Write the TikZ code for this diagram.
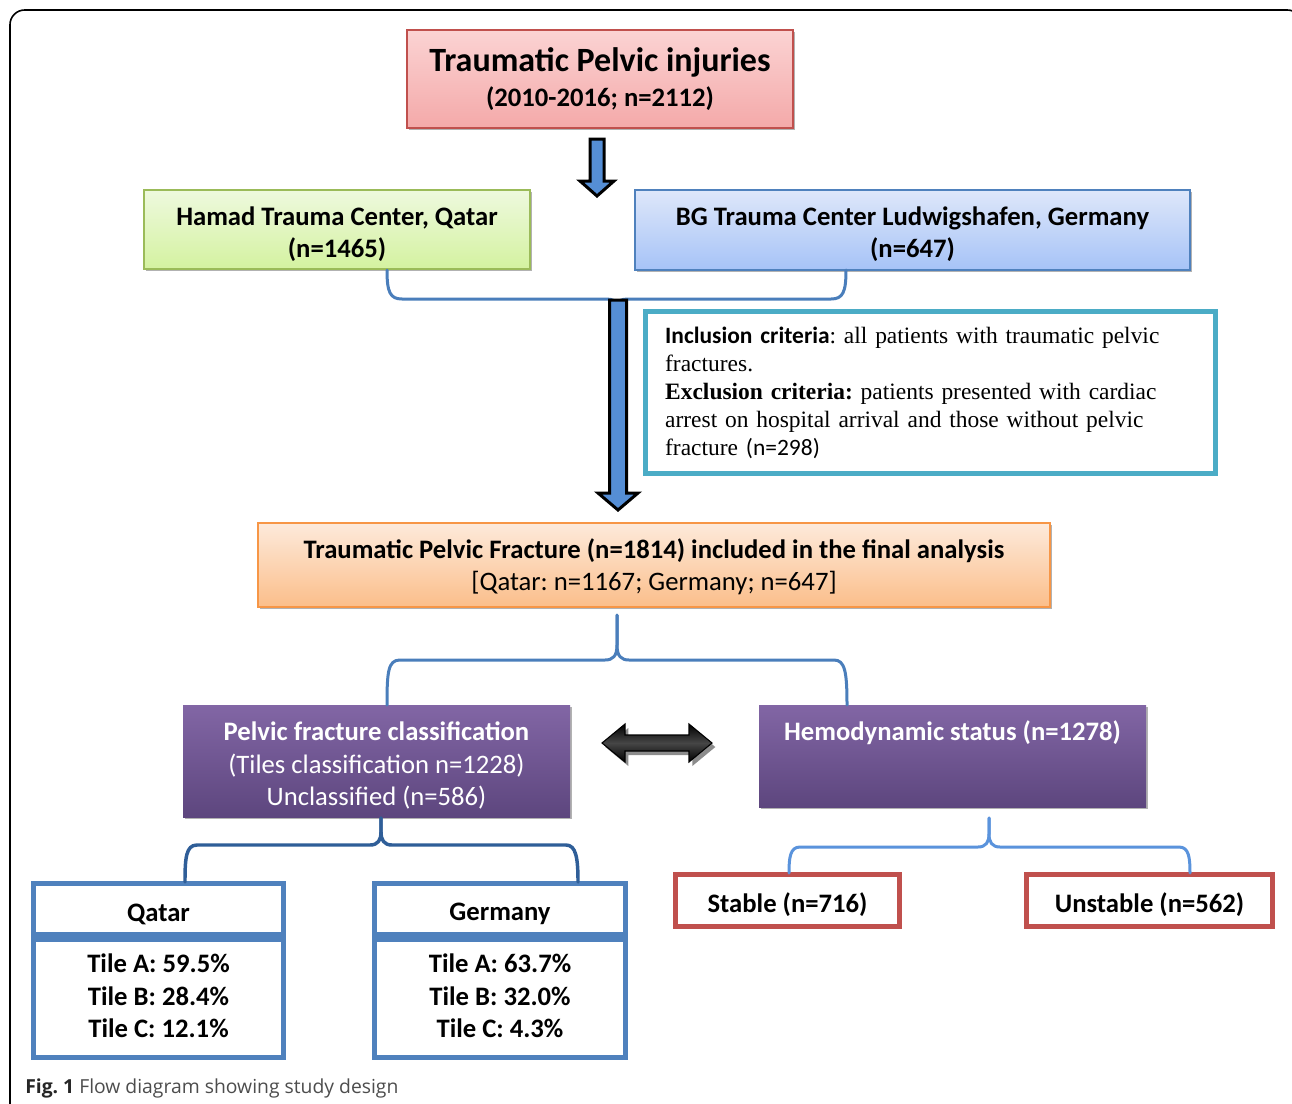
\documentclass[tikz,border=0pt]{standalone}
\usepackage{fontspec}
\setmainfont{Carlito}
\newfontfamily\tnr{Liberation Serif}
\newfontfamily\carlito{Carlito}
\newfontfamily\capfont{Open Sans}
\usetikzlibrary{shadows,calc}

\newcommand\boxtext[2]{\raisebox{#1}[\height][\depth]{\begin{tabular}{@{}c@{}}#2\end{tabular}}}
\newcommand\linetext[2]{\raisebox{#1}[\height][\depth]{#2}}

\definecolor{titleT}{HTML}{FBD3D3}
\definecolor{titleB}{HTML}{F4A9A9}
\definecolor{titleline}{HTML}{C0504D}
\definecolor{greenT}{HTML}{EEF9DE}
\definecolor{greenB}{HTML}{D4F2A0}
\definecolor{greenline}{HTML}{9BBB59}
\definecolor{blueT}{HTML}{DEE7FA}
\definecolor{blueB}{HTML}{A6C3F7}
\definecolor{blueline}{HTML}{4F81BD}
\definecolor{orangeT}{HTML}{FDEADB}
\definecolor{orangeB}{HTML}{FBBE8A}
\definecolor{orangeline}{HTML}{F79646}
\definecolor{purpleT}{HTML}{8266A5}
\definecolor{purpleB}{HTML}{5D467E}
\definecolor{tealline}{HTML}{4BACC6}
\definecolor{tileline}{HTML}{4F81BD}
\definecolor{redline}{HTML}{C0504D}
\definecolor{arrowblue}{HTML}{558ED5}
\definecolor{braceA}{HTML}{4A7EBB}
\definecolor{braceC}{HTML}{2F5E98}
\definecolor{braceD}{HTML}{5A93DC}
\definecolor{capgray}{HTML}{4D4D4D}

\tikzset{
  myshadow/.style={drop shadow={shadow xshift=1.6pt, shadow yshift=-1.6pt, opacity=0.3, fill=black}},
  fillbox/.style={rectangle, line width=1.1pt, align=center, inner sep=0pt, myshadow},
  purplebox/.style={fillbox, draw=none, top color=purpleT, bottom color=purpleB, text=white,
     minimum width=290.25pt, font=\fontsize{20}{24.4}\selectfont},
  tilehead/.style={rectangle, draw=tileline, line width=3.75pt, minimum width=188pt,
     minimum height=38.25pt, inner sep=0pt, font=\fontsize{20}{24}\selectfont\bfseries},
  tilebody/.style={rectangle, draw=tileline, line width=3.75pt, minimum width=188pt,
     minimum height=88.5pt, inner sep=0pt, align=center, font=\fontsize{20}{24.4}\selectfont\bfseries},
  redbox/.style={rectangle, draw=redline, line width=3.75pt, minimum height=39pt, inner sep=0pt,
     font=\fontsize{20}{24}\selectfont\bfseries},
  bracestyle/.style={line width=2.25pt, line cap=round, line join=round},
  blockarrow/.style={fill=arrowblue, draw=black, line width=2.25pt, line join=miter},
  dblarrow/.style={draw=black, line width=0.8pt, top color=black, bottom color=black,
     middle color=gray!55!black, drop shadow={shadow xshift=2.5pt, shadow yshift=-3pt, opacity=0.45, fill=black}}
}

\begin{document}
\frenchspacing
\begin{tikzpicture}[x=0.75pt,y=-0.75pt]
\useasboundingbox (0,0) rectangle (1292,1103);
\fill[white] (0,0) rectangle (1292,1103);

% outer frame
\begin{scope}
\clip (0,0) rectangle (1292,1103);
\draw[line width=1.2pt, rounded corners=11pt] (10,1130) -- (10,10) -- (1302,10) -- (1302,1130);
\end{scope}

% boxes
\node[fillbox, draw=titleline, top color=titleT, bottom color=titleB,
      minimum width=289.5pt, minimum height=73.5pt, font=\bfseries\fontsize{20}{26}\selectfont]
  (title) at (600,79) {{\fontsize{25.5}{26}\selectfont Traumatic Pelvic injuries}\\(2010-2016; n=2112)};

\node[fillbox, draw=greenline, top color=greenT, bottom color=greenB,
      minimum width=289.5pt, minimum height=59.25pt, font=\bfseries\fontsize{20}{24}\selectfont]
  (hamad) at (337,229.5) {\boxtext{-4.3pt}{Hamad Trauma Center, Qatar\\(n=1465)}};

\node[fillbox, draw=blueline, top color=blueT, bottom color=blueB,
      minimum width=416.25pt, minimum height=60pt, font=\bfseries\fontsize{20}{24}\selectfont]
  (bg) at (912.5,230) {\boxtext{-3.9pt}{BG Trauma Center Ludwigshafen, Germany\\(n=647)}};

\node[rectangle, draw=tealline, line width=3.75pt, minimum height=121.5pt,
      text width=398pt, inner xsep=14.7pt, inner ysep=0pt, align=left,
      font=\tnr\fontsize{17.6}{21}\selectfont\frenchspacing]
  (incl) at (930.5,392.5) {{\carlito\bfseries Inclusion criteria}: all patients with traumatic pelvic\\
  fractures.\\
  \textbf{Exclusion criteria:} patients presented with cardiac\\
  arrest on hospital arrival and those without pelvic\\
  fracture {\carlito(n=298)}};

\node[fillbox, draw=orangeline, top color=orangeT, bottom color=orangeB,
      minimum width=594pt, minimum height=63pt, font=\fontsize{20}{24}\selectfont]
  (frac) at (654,565) {\boxtext{-2.4pt}{\textbf{Traumatic Pelvic Fracture (n=1814) included in the final analysis}\\
  {[}Qatar: n=1167; Germany; n=647{]}}};

\node[purplebox, minimum height=84pt]
  (pclass) at (376.5,761) {\boxtext{-4.2pt}{\textbf{Pelvic fracture classification}\\(Tiles classification n=1228)\\Unclassified (n=586)}};

\node[purplebox, minimum height=76.5pt, text height=14pt, text depth=38pt]
  (hemo) at (952.5,756) {\textbf{Hemodynamic status (n=1278)}};

\node[tilehead] (qh) at (158.5,909) {\linetext{-3.75pt}{Qatar}};
\node[tilebody] (qb) at (158.5,998.5) {\boxtext{0pt}{Tile A: 59.5\%\\Tile B: 28.4\%\\Tile C: 12.1\%}};
\node[tilehead] (gh) at (500,909) {\linetext{-3.75pt}{Germany}};
\node[tilebody] (gb) at (500,998.5) {\boxtext{0pt}{Tile A: 63.7\%\\Tile B: 32.0\%\\Tile C: 4.3\%}};

\node[redbox, minimum width=168pt] (stable) at (787.5,900.5) {\linetext{-3pt}{Stable (n=716)}};
\node[redbox, minimum width=184.5pt] (unstable) at (1149.5,900.5) {\linetext{-3pt}{Unstable (n=562)}};

% block arrow 1 (title -> centres)
\coordinate (a1s) at (597,139);
\coordinate (a1e) at (597,196);
\draw[blockarrow] ($(a1s)+(-7,0)$) -- ($(a1s)+(7,0)$) -- ($(a1e)+(7,-15)$) -- ($(a1e)+(17,-15)$)
   -- (a1e) -- ($(a1e)+(-17,-15)$) -- ($(a1e)+(-7,-15)$) -- cycle;

% brace 1 (centres -> arrow 2)
\coordinate (b1l) at (387,270);
\coordinate (b1r) at (846,270);
\coordinate (b1m) at (617,306);
\draw[bracestyle, draw=braceA] (b1l) .. controls (387,292) and (390,299) .. (402,299) -- (606,299)
   .. controls (613,299) and (617,301) .. (b1m) .. controls (617,301) and (621,299) .. (628,299)
   -- (831,299) .. controls (843,299) and (846,292) .. (b1r);

% block arrow 2 (-> fracture box)
\coordinate (a2s) at (618,300);
\coordinate (a2e) at (618,510);
\draw[blockarrow] ($(a2s)+(-8.5,0)$) -- ($(a2s)+(8.5,0)$) -- ($(a2e)+(8.5,-17)$) -- ($(a2e)+(20,-17)$)
   -- (a2e) -- ($(a2e)+(-20,-17)$) -- ($(a2e)+(-8.5,-17)$) -- cycle;

% brace 2 (fracture -> purple boxes)
\coordinate (b2m) at (617,615);
\coordinate (b2l) at (387,705);
\coordinate (b2r) at (847,705);
\draw[bracestyle, draw=braceA] (b2l) .. controls (387,672) and (388,660) .. (400,660) -- (605,660)
   .. controls (613,660) and (617,656) .. (617,645) -- (b2m);
\draw[bracestyle, draw=braceA] (b2m) -- (617,645) .. controls (617,656) and (621,660) .. (629,660)
   -- (834,660) .. controls (845,660) and (847,672) .. (b2r);

% double arrow between purple boxes
\coordinate (dal) at (602,743);
\coordinate (dar) at (712,743);
\path[dblarrow] (dal) -- ($(dal)+(23,-19)$) -- ($(dal)+(23,-8)$) -- ($(dar)+(-23,-8)$) -- ($(dar)+(-23,-19)$)
   -- (dar) -- ($(dar)+(-23,19)$) -- ($(dar)+(-23,8)$) -- ($(dal)+(23,8)$) -- ($(dal)+(23,19)$) -- cycle;

% brace 3 (classification -> Qatar / Germany)
\coordinate (b3m) at (381,818);
\coordinate (b3l) at (185,882);
\coordinate (b3r) at (578,882);
\draw[bracestyle, line width=2.6pt, draw=braceC] (b3l) .. controls (185,858) and (186,845) .. (197,845) -- (370,845)
   .. controls (378,845) and (381,840) .. (381,832) -- (b3m);
\draw[bracestyle, line width=2.6pt, draw=braceC] (b3m) -- (381,832) .. controls (381,840) and (384,845) .. (392,845)
   -- (566,845) .. controls (576,845) and (578,858) .. (b3r);

% brace 4 (hemodynamic -> stable / unstable)
\coordinate (b4m) at (989,818);
\coordinate (b4l) at (789,873);
\coordinate (b4r) at (1190,873);
\draw[bracestyle, draw=braceD] (b4l) .. controls (789,858) and (790,847) .. (800,847) -- (978,847)
   .. controls (986,847) and (989,842) .. (989,834) -- (b4m);
\draw[bracestyle, draw=braceD] (b4m) -- (989,834) .. controls (989,842) and (992,847) .. (1000,847)
   -- (1179,847) .. controls (1189,847) and (1190,858) .. (b4r);

% caption
\node[anchor=west, inner sep=0pt, text=capgray, font=\capfont\fontsize{14.5}{16}\selectfont]
  (cap) at (25,1088) {{\bfseries\color{black!85}Fig. 1} Flow diagram showing study design};
\end{tikzpicture}
\end{document}
